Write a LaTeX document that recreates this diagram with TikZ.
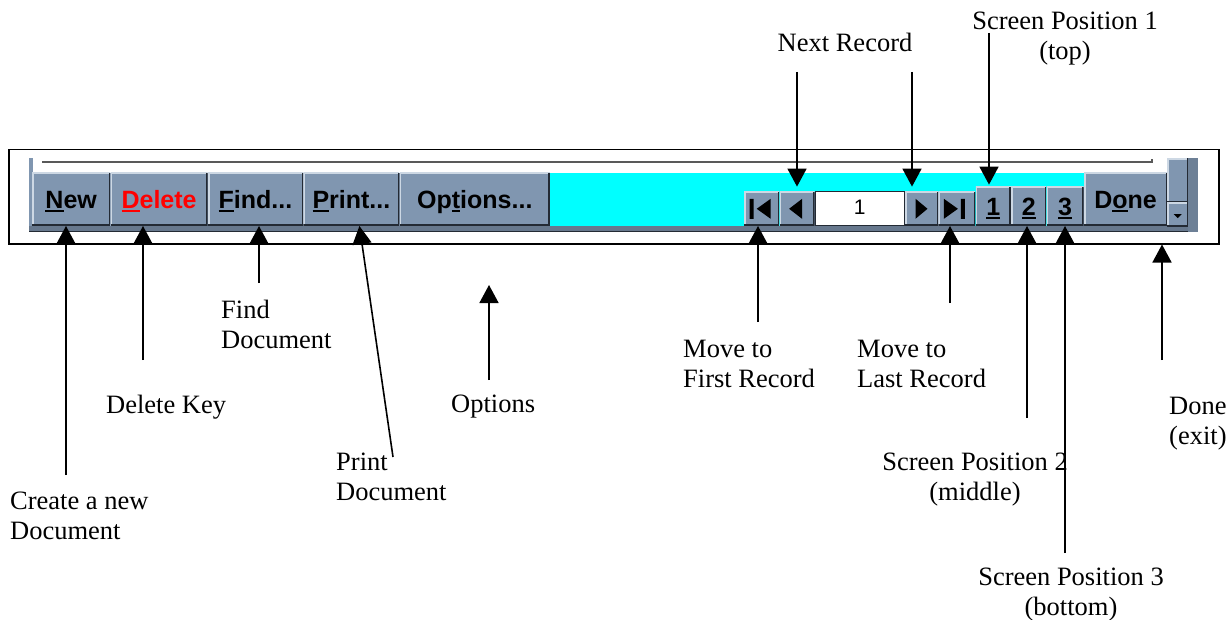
\documentclass[tikz,border=0pt]{standalone}
\usepackage{fontspec}
\setmainfont{Liberation Serif}
\newfontfamily\uisans{Liberation Sans}
\usetikzlibrary{arrows.meta,positioning}

\definecolor{btngray}{RGB}{128,150,176}
\definecolor{btnlight}{RGB}{205,216,228}
\definecolor{btndark}{RGB}{35,42,52}
\definecolor{barcyan}{RGB}{0,255,255}
\definecolor{delred}{RGB}{255,0,0}

\newcommand\hotkey[1]{\setbox0\hbox{#1}\rlap{\rule[-4pt]{\wd0}{2pt}}\box0}

\begin{document}
\begin{tikzpicture}[x=1pt,y=-1pt,
    btn/.style={fill=btngray, inner sep=0pt, text height=18pt, text depth=0pt,
      font=\uisans\bfseries\fontsize{25}{25}\selectfont,
      path picture={
        \draw[btnlight,line width=3pt] (path picture bounding box.south west) -- (path picture bounding box.north west) -- (path picture bounding box.north east);
        \draw[btndark,line width=3pt] (path picture bounding box.north east) -- (path picture bounding box.south east) -- (path picture bounding box.south west);}},
    nextto/.style={right=0pt of #1.south east, anchor=south west},
    tall/.style={minimum height=53pt},
    navbtn/.style={minimum height=34pt},
    posbtn/.style={minimum height=39pt},
    callout/.style={font=\fontsize{26.5}{30}\selectfont, inner sep=0pt, align=left, anchor=north west},
    pointer/.style={line width=1.6pt, -{Triangle[length=18pt,width=19pt]}}]

  \useasboundingbox (0,0) rectangle (1230,620);

  \node[draw, line width=1.5pt, inner sep=0pt, minimum width=1210pt, minimum height=94pt, anchor=north west] (frame) at (8,149) {};

  % toolbar panel
  \fill[btngray] (29,158) rectangle (1198,232);
  \fill[btngray!80!black] (29,226) rectangle (1198,232);
  \draw[btndark, line width=1pt] (29,232) -- (1198,232);
  \fill[white] (33,158) rectangle (1167,173);
  \fill[barcyan] (548,173) rectangle (1167,226);
  \draw[black!65, line width=1.5pt] (42,162) -- (1152,162) -- (1152,159);

  \node[btn, tall, minimum width=78pt, anchor=south west] (bNew) at (32,226) {\hotkey{N}ew};
  \node[btn, tall, minimum width=97pt, nextto=bNew, text=delred] (bDelete) {\hotkey{D}elete};
  \node[btn, tall, minimum width=95pt, nextto=bDelete] (bFind) {\hotkey{F}ind...};
  \node[btn, tall, minimum width=96pt, nextto=bFind] (bPrint) {\hotkey{P}rint...};
  \node[btn, tall, minimum width=150pt, nextto=bPrint] (bOptions) {Op\hotkey{t}ions...};

  \node[btn, navbtn, minimum width=35pt, anchor=south west] (bFirst) at (744,226) {};
  \node[btn, navbtn, minimum width=35pt, nextto=bFirst] (bPrev) {};
  \node[draw=btndark, fill=white, line width=1pt, inner sep=0pt, minimum width=89pt, minimum height=34pt,
    font=\uisans\fontsize{21}{21}\selectfont, nextto=bPrev] (recNo) {\raisebox{3pt}{1}};
  \node[btn, navbtn, minimum width=33pt, nextto=recNo] (bNext) {};
  \node[btn, navbtn, minimum width=37pt, nextto=bNext] (bLast) {};
  \node[btn, posbtn, minimum width=35pt, nextto=bLast] (bOne) {\hotkey{1}};
  \node[btn, posbtn, minimum width=35pt, nextto=bOne] (bTwo) {\hotkey{2}};
  \node[btn, posbtn, minimum width=37pt, nextto=bTwo] (bThree) {\hotkey{3}};
  \node[btn, tall, minimum width=83pt, nextto=bThree] (bDone) {D\hotkey{o}ne};

  \node[btn, minimum width=21pt, minimum height=44pt, anchor=north west] (sTrack) at (1167,158) {};
  \node[btn, minimum width=21pt, minimum height=24pt, anchor=north west] (sDown) at (1167,202) {};
  \fill[btngray!85!black] (1188,158) rectangle (1198,232);

  \fill[shift={(bFirst.center)}] (-12,-10) rectangle (-8,10) (-5,0) -- (9,-10) -- (9,10) -- cycle;
  \fill[shift={(bPrev.center)}] (-8,0) -- (5,-10) -- (5,10) -- cycle;
  \fill[shift={(bNext.center)}] (-6,-10) -- (6,0) -- (-6,10) -- cycle;
  \fill[shift={(bLast.center)}] (-13,-10) -- (1,0) -- (-13,10) -- cycle (4,-10) rectangle (8,10);
  \fill[shift={(sDown.center)}] (-4,0) -- (4,0) -- (0,4) -- cycle;

  % callouts
  \node[callout] (lNew) at (10,492) {Create a new\\Document};
  \node[callout] (lDelete) at (106,395) {Delete Key};
  \node[callout] (lFind) at (221,300) {Find\\Document};
  \node[callout] (lPrint) at (336,453) {Print\\Document};
  \node[callout] (lOptions) at (451,395) {Options};
  \node[callout] (lFirst) at (683,340) {Move to\\First Record};
  \node[callout] (lLast) at (857,340) {Move to\\Last Record};
  \node[callout, align=center, anchor=north] (lTwo) at (975,453) {Screen Position 2\\(middle)};
  \node[callout, align=center, anchor=north] (lThree) at (1071,568) {Screen Position 3\\(bottom)};
  \node[callout] (lDone) at (1169,397) {Done\\(exit)};
  \node[callout, anchor=north] (lNext) at (845,33) {Next Record};
  \node[callout, align=center, anchor=north] (lOne) at (1065,12) {Screen Position 1\\(top)};

  \coordinate (tNew) at (66,475);
  \coordinate (tDelete) at (143,360);
  \coordinate (tFind) at (259,283);
  \coordinate (tPrint) at (393,457);
  \coordinate (tOptions) at (489,380);
  \coordinate (hOptions) at (489,285);
  \coordinate (tFirst) at (758,322);
  \coordinate (tLast) at (950,303);
  \coordinate (tTwo) at (1027,418);
  \coordinate (tThree) at (1065,553);
  \coordinate (tDone) at (1162,360);
  \coordinate (tPrev) at (797,72);
  \coordinate (tNext) at (912,72);
  \coordinate (tOne) at (989,33);

  \draw[pointer] (tNew) -- (tNew |- bNew.south);
  \draw[pointer] (tDelete) -- (tDelete |- bDelete.south);
  \draw[pointer] (tFind) -- (tFind |- bFind.south);
  \draw[pointer] (tPrint) -- ([xshift=8pt]bPrint.south);
  \draw[pointer] (tOptions) -- (hOptions);
  \draw[pointer] (tFirst) -- (tFirst |- bFirst.south);
  \draw[pointer] (tLast) -- (tLast |- bLast.south);
  \draw[pointer] (tTwo) -- (tTwo |- bTwo.south);
  \draw[pointer] (tThree) -- (tThree |- bThree.south);
  \draw[pointer] (tDone) -- (tDone |- frame.south);
  \draw[pointer, shorten >=5pt] (tPrev) -- (tPrev |- bPrev.north);
  \draw[pointer, shorten >=5pt] (tNext) -- (tNext |- bNext.north);
  \draw[pointer, shorten >=2pt] (tOne) -- (tOne |- bOne.north);
\end{tikzpicture}
\end{document}
